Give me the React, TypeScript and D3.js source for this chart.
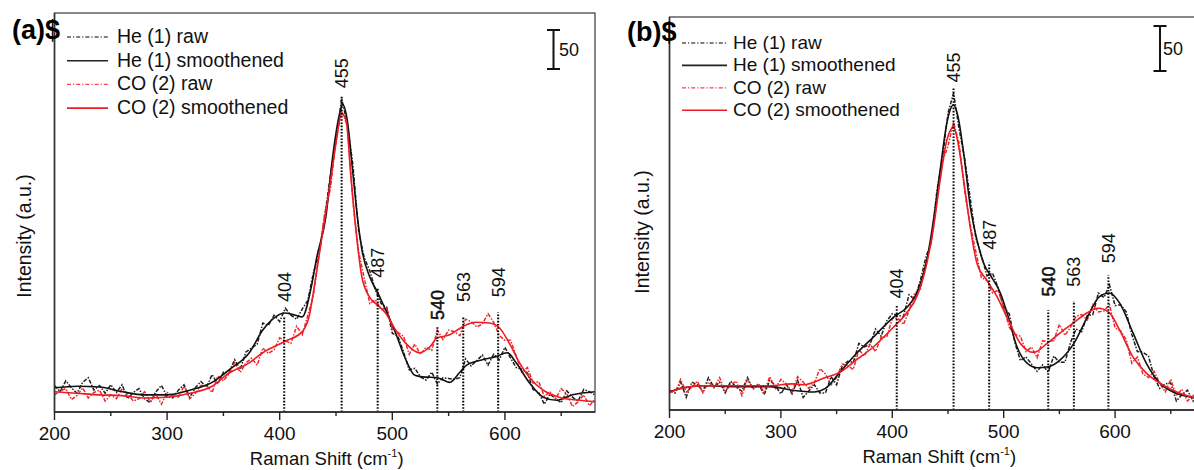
import React from 'react';
import * as d3 from 'd3';

// ---------- DATA ----------
const RAW_SHIFT = d3.range(200, 681, 5); // raw spectra sampling grid (cm-1)

const A_HE_RAW = [34,26,40,31,24,38,44,28,34,24,35,25,35,17,25,30,17,12,26,34,20,18,28,35,19,31,39,32,48,36,51,51,67,55,77,82,87,114,111,124,116,133,124,119,132,143,179,203,251,303,348,402,370,317,233,198,181,156,139,134,101,97,77,54,56,45,41,51,36,44,43,42,44,68,59,66,73,60,74,67,83,69,57,55,50,29,25,10,23,17,12,27,19,14,29,26,22];
const A_CO_RAW = [22,27,30,16,21,31,18,25,28,14,22,17,30,23,14,17,26,13,23,10,25,21,19,33,17,24,34,34,25,46,40,49,63,51,63,69,60,82,75,80,95,91,88,110,99,124,150,203,255,286,348,386,367,270,206,172,139,144,131,134,106,102,97,74,87,74,83,79,105,93,105,103,98,119,116,109,113,126,115,98,92,92,72,51,57,37,39,20,26,17,30,23,7,13,22,8,16];
const B_HE_RAW = [22,19,31,14,31,28,21,36,25,31,19,32,25,21,36,23,29,17,33,27,18,28,18,33,14,21,28,19,19,37,28,49,54,53,74,70,73,90,82,99,107,105,104,128,123,143,169,187,243,279,330,352,312,279,235,191,172,149,152,136,114,107,75,55,59,51,43,50,42,60,53,53,75,90,87,105,106,130,125,139,116,117,109,84,65,64,60,37,24,29,30,10,17,22,10,23,5];
const B_CO_RAW = [22,19,34,20,25,32,19,31,25,36,21,28,32,16,34,24,29,20,37,24,34,29,20,37,31,24,30,46,40,28,36,51,49,45,67,60,73,65,81,81,102,102,95,110,130,133,162,186,231,276,293,320,296,243,205,176,147,144,130,133,114,92,84,82,65,70,58,77,76,77,95,83,92,104,106,100,117,109,110,117,91,88,78,52,59,40,36,43,30,20,34,16,23,10,16,19,2];

const A_HE_SM_X = [200,220,240,260,280,300,320,340,355,373,385,393,404,414,420,428,433,441,447,453,456,460,465,469,473,480,487,494,503,512,520,527,540,551,560,566,580,592,602,610,622,634,646,660,680];
const A_HE_SM_Y = [31,33,32,26,22,22,28,38,54,76,105,118,127,124,122,160,199,250,327,381,394,374,306,250,208,173,153,131,101,67,47,45,44,38,51,60,67,71,76,63,37,19,15,22,26];
const A_CO_SM_X = [200,220,240,260,280,300,320,340,355,373,385,404,420,426,432,438,444,450,455,459,463,468,473,480,487,494,503,512,524,533,540,551,562,574,586,595,604,613,622,634,648,666,680];
const A_CO_SM_Y = [26,24,22,21,18,19,24,33,50,63,76,90,103,122,173,229,285,345,383,374,306,229,173,147,137,127,105,88,76,83,95,99,109,115,114,108,88,63,44,28,19,15,13];
const B_HE_SM_X = [200,210,230,260,290,310,330,340,353,368,383,401,413,422,431,437,443,449,455,459,464,470,476,482,489,497,503,512,521,530,540,551,563,575,586,595,604,616,628,640,652,670,680];
const B_HE_SM_Y = [20,24,27,26,26,22,20,24,42,63,81,103,114,130,167,211,267,319,339,326,286,226,189,163,148,130,108,70,52,47,48,56,74,103,126,130,119,86,52,30,20,14,12];
const B_CO_SM_X = [200,210,230,260,290,310,320,340,353,368,383,401,413,422,431,437,443,449,455,459,464,470,476,485,494,503,515,527,539,551,563,575,585,595,604,616,628,640,652,670,680];
const B_CO_SM_Y = [19,24,27,27,27,29,28,36,42,56,70,92,108,126,163,203,256,300,314,297,256,203,163,144,126,103,74,64,74,86,97,108,113,108,89,59,41,30,22,14,11];

const PEAKS = [404, 455, 487, 540, 563, 594];
const A_PEAK_TOP = [122, 404, 160, 109, 121, 128];
const A_PEAK_LABEL = [141, 415, 172, 118, 141, 147];
const B_PEAK_TOP = [117, 359, 164, 111, 121, 150];
const B_PEAK_LABEL = [124, 364, 178, 126, 137, 163];

const X_TICKS = [200, 300, 400, 500, 600];
const X_MINOR = [250, 350, 450, 550, 650];
const LEGEND = ['He (1) raw', 'He (1) smoothened', 'CO (2) raw', 'CO (2) smoothened'];
const SCALE_BAR = 50;

// ---------- STYLES ----------
const FONT = "'Liberation Sans', Arial, sans-serif";
const BLACK = '#111';
const RED = '#ec1c24';
const RAW_BLACK = '#1e1e1e';
const RAW_RED = '#f0262c';
const RAW_DASH = '4 1.5 1.5 1.5';

type Cfg = {
  id: string; left: number; right: number; top: number; bottom: number; yMax: number;
  tag: string; tagX: number; tagY: number;
  legendX: number; legendY: number; legendDy: number; legendFont: number; legendLen: number; legendGap: number;
  barX: number; barTop: number; barLabelX: number; barLabelDy: number;
  yTitleX: number; yTitleY: number;
  heRaw: number[]; coRaw: number[];
  heSmX: number[]; heSmY: number[]; coSmX: number[]; coSmY: number[];
  peakTop: number[]; peakLabel: number[];
};

const Panel = ({ c }: { c: Cfg }) => {
  const x = d3.scaleLinear().domain([200, 680]).range([c.left, c.right]);
  const y = d3.scaleLinear().domain([0, c.yMax]).range([c.bottom, c.top]);
  const lineRaw = d3.line<[number, number]>().x(d => x(d[0])).y(d => y(d[1]));
  const lineSm = d3.line<[number, number]>().x(d => x(d[0])).y(d => y(d[1])).curve(d3.curveMonotoneX);
  const heRaw = RAW_SHIFT.map((s, i) => [s, c.heRaw[i]] as [number, number]);
  const coRaw = RAW_SHIFT.map((s, i) => [s, c.coRaw[i]] as [number, number]);
  const heSm = c.heSmX.map((s, i) => [s, c.heSmY[i]] as [number, number]);
  const coSm = c.coSmX.map((s, i) => [s, c.coSmY[i]] as [number, number]);
  const barLen = y(0) - y(SCALE_BAR);
  const legendStyles = [
    { stroke: '#555', dash: '4 2 1.2 2', w: 1.3 },
    { stroke: '#222', dash: undefined, w: 1.6 },
    { stroke: '#ee4455', dash: '4 2 1.2 2', w: 1.3 },
    { stroke: RED, dash: undefined, w: 1.6 },
  ];
  return (
    <g>
      <defs>
        <clipPath id={`clip-${c.id}`}>
          <rect x={c.left} y={c.top} width={c.right - c.left} height={c.bottom - c.top} />
        </clipPath>
      </defs>
      <g clipPath={`url(#clip-${c.id})`}>
        <path d={lineRaw(heRaw) || ''} fill="none" stroke={RAW_BLACK} strokeWidth={1.5} strokeDasharray={RAW_DASH} />
        <path d={lineRaw(coRaw) || ''} fill="none" stroke={RAW_RED} strokeWidth={1.5} strokeDasharray={RAW_DASH} />
        <path d={lineSm(heSm) || ''} fill="none" stroke={BLACK} strokeWidth={1.6} />
        <path d={lineSm(coSm) || ''} fill="none" stroke={RED} strokeWidth={1.6} />
      </g>
      {PEAKS.map((p, i) => (
        <g key={p}>
          <line x1={x(p)} x2={x(p)} y1={c.bottom} y2={y(c.peakTop[i])} stroke="#000" strokeWidth={2} strokeDasharray="1.6 1.6" />
          <text
            transform={`translate(${x(p) + 6.5},${y(c.peakLabel[i])}) rotate(-90)`}
            fontSize={18} fontFamily={FONT} fill="#111"
            stroke={p === 540 ? '#111' : 'none'} strokeWidth={p === 540 ? 0.5 : 0}
          >{p}</text>
        </g>
      ))}
      {/* frame */}
      <rect x={c.left} y={c.top} width={c.right - c.left} height={c.bottom - c.top} fill="none" stroke="#555" strokeWidth={1.4} />
      <line x1={c.left} x2={c.right} y1={c.bottom} y2={c.bottom} stroke="#222" strokeWidth={1.5} />
      <line x1={c.left} x2={c.left} y1={c.top} y2={c.bottom} stroke="#333" strokeWidth={1.5} />
      {X_TICKS.map(t => (
        <g key={t}>
          <line x1={x(t)} x2={x(t)} y1={c.bottom} y2={c.bottom + 8} stroke="#222" strokeWidth={1.4} />
          <text x={x(t)} y={c.bottom + 28} textAnchor="middle" fontSize={19} fontFamily={FONT} fill="#111">{t}</text>
        </g>
      ))}
      {X_MINOR.map(t => (
        <line key={t} x1={x(t)} x2={x(t)} y1={c.bottom} y2={c.bottom + 4} stroke="#222" strokeWidth={1.4} />
      ))}
      <text x={(x(200) + x(600)) / 2 + 47} y={c.bottom + 53} textAnchor="middle" fontSize={18.5} fontFamily={FONT} fill="#111">
        Raman Shift (cm<tspan fontSize={11} dy={-8}>-1</tspan><tspan dy={8}>)</tspan>
      </text>
      <text transform={`translate(${c.yTitleX},${c.yTitleY}) rotate(-90)`} textAnchor="middle" fontSize={19.5} fontFamily={FONT} fill="#111">
        Intensity (a.u.)
      </text>
      {/* scale bar */}
      <g stroke="#111" strokeWidth={2}>
        <line x1={c.barX} x2={c.barX} y1={c.barTop} y2={c.barTop + barLen} />
        <line x1={c.barX - 6.5} x2={c.barX + 6.5} y1={c.barTop} y2={c.barTop} />
        <line x1={c.barX - 6.5} x2={c.barX + 6.5} y1={c.barTop + barLen} y2={c.barTop + barLen} />
      </g>
      <text x={c.barLabelX} y={c.barTop + c.barLabelDy} fontSize={18} fontFamily={FONT} fill="#111">{SCALE_BAR}</text>
      {/* legend */}
      {LEGEND.map((l, i) => {
        const by = c.legendY + i * c.legendDy;
        const s = legendStyles[i];
        return (
          <g key={l}>
            <line x1={c.legendX} x2={c.legendX + c.legendLen} y1={by - 6} y2={by - 6} stroke={s.stroke} strokeWidth={s.w} strokeDasharray={s.dash} />
            <text x={c.legendX + c.legendGap} y={by} fontSize={c.legendFont} fontFamily={FONT} fill="#111">{l}</text>
          </g>
        );
      })}
      <text x={c.tagX} y={c.tagY} fontSize={27} fontWeight="bold" fontFamily={FONT} fill="#000">{c.tag}</text>
    </g>
  );
};

const PANEL_A: Cfg = {
  id: 'a', left: 54.5, right: 595, top: 13, bottom: 412, yMax: 511.5,
  tag: '(a)$', tagX: 12, tagY: 39,
  legendX: 67, legendY: 43, legendDy: 23.7, legendFont: 19.5, legendLen: 41, legendGap: 50,
  barX: 553.5, barTop: 30, barLabelX: 559, barLabelDy: 26,
  yTitleX: 31, yTitleY: 236,
  heRaw: A_HE_RAW, coRaw: A_CO_RAW,
  heSmX: A_HE_SM_X, heSmY: A_HE_SM_Y, coSmX: A_CO_SM_X, coSmY: A_CO_SM_Y,
  peakTop: A_PEAK_TOP, peakLabel: A_PEAK_LABEL,
};

const PANEL_B: Cfg = {
  id: 'b', left: 669.5, right: 1204.2, top: 17, bottom: 410, yMax: 436.7,
  tag: '(b)$', tagX: 627, tagY: 41,
  legendX: 682, legendY: 49, legendDy: 22.4, legendFont: 19, legendLen: 45, legendGap: 51,
  barX: 1160, barTop: 26, barLabelX: 1163, barLabelDy: 29,
  yTitleX: 649, yTitleY: 232,
  heRaw: B_HE_RAW, coRaw: B_CO_RAW,
  heSmX: B_HE_SM_X, heSmY: B_HE_SM_Y, coSmX: B_CO_SM_X, coSmY: B_CO_SM_Y,
  peakTop: B_PEAK_TOP, peakLabel: B_PEAK_LABEL,
};

export default function App() {
  return (
    <svg width={1194} height={470} style={{ position: 'absolute', left: 0, top: 0, background: '#fff' }}>
      <rect x={0} y={0} width={1194} height={470} fill="#fff" />
      <Panel c={PANEL_A} />
      <Panel c={PANEL_B} />
    </svg>
  );
}
